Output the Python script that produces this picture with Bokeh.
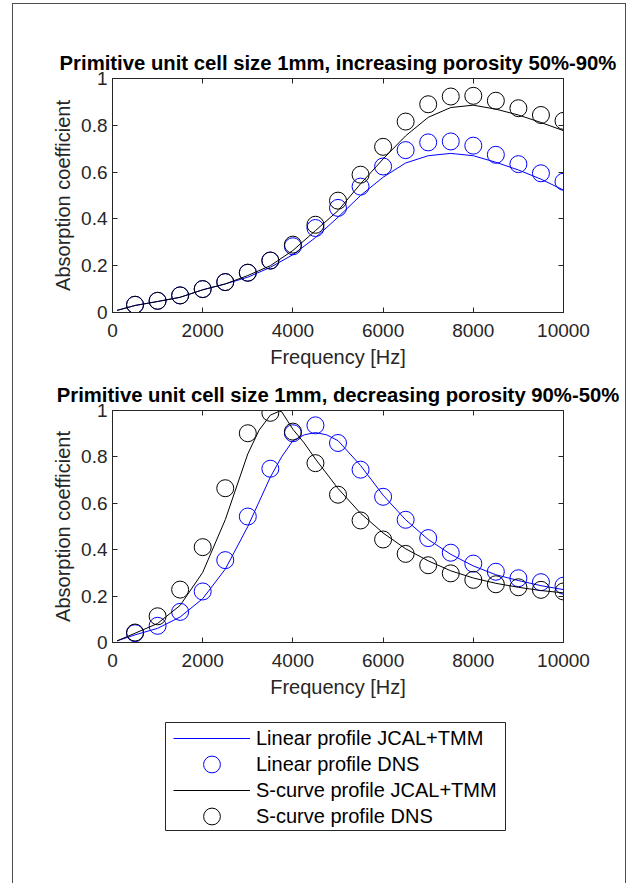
from bokeh.plotting import figure
from bokeh.models import Range1d, LinearAxis, FixedTicker, Legend, LegendItem
from bokeh.layouts import column
from bokeh.embed import file_html
from bokeh.resources import INLINE

# ---------------- data ----------------
dns_freq = [500, 1000, 1500, 2000, 2500, 3000, 3500, 4000, 4500, 5000,
            5500, 6000, 6500, 7000, 7500, 8000, 8500, 9000, 9500, 10000]

# Top panel: increasing porosity 50%-90%
inc_linear_dns = [0.033, 0.050, 0.073, 0.100, 0.130, 0.170, 0.222, 0.283, 0.361, 0.447,
                  0.538, 0.624, 0.694, 0.727, 0.731, 0.713, 0.674, 0.634, 0.595, 0.559]
inc_scurve_dns = [0.033, 0.050, 0.073, 0.100, 0.130, 0.170, 0.222, 0.290, 0.375, 0.478,
                  0.589, 0.708, 0.816, 0.890, 0.923, 0.926, 0.905, 0.873, 0.844, 0.819]
inc_model_freq = [100, 500, 1000, 1500, 2000, 2500, 3000, 3500, 4000, 4500, 5000,
                  5500, 6000, 6500, 7000, 7500, 8000, 8500, 9000, 9500, 10000]
inc_linear_model = [0.009, 0.030, 0.047, 0.065, 0.097, 0.122, 0.151, 0.193, 0.247, 0.320, 0.407,
                    0.500, 0.578, 0.639, 0.670, 0.680, 0.670, 0.642, 0.609, 0.570, 0.523]
inc_scurve_model = [0.009, 0.030, 0.047, 0.065, 0.097, 0.122, 0.158, 0.200, 0.265, 0.350, 0.435,
                    0.550, 0.656, 0.755, 0.834, 0.876, 0.886, 0.869, 0.844, 0.812, 0.777]

# Bottom panel: decreasing porosity 90%-50%
dec_linear_dns = [0.040, 0.072, 0.132, 0.220, 0.355, 0.543, 0.749, 0.902, 0.936, 0.860,
                  0.745, 0.628, 0.529, 0.450, 0.387, 0.340, 0.305, 0.277, 0.260, 0.245]
dec_scurve_dns = [0.043, 0.113, 0.228, 0.411, 0.665, 0.902, 0.990, 0.909, 0.773, 0.637,
                  0.526, 0.444, 0.382, 0.333, 0.298, 0.270, 0.251, 0.238, 0.227, 0.220]
dec_linear_freq = [100, 500, 1000, 1500, 2000, 2500, 3000, 3500, 3750, 4000, 4250, 4500, 4750, 5000,
                   5500, 6000, 6500, 7000, 7500, 8000, 8500, 9000, 9500, 10000]
dec_linear_model = [0.007, 0.033, 0.061, 0.110, 0.189, 0.316, 0.500, 0.713, 0.800, 0.870, 0.895, 0.905, 0.895, 0.870,
                    0.763, 0.635, 0.529, 0.444, 0.380, 0.330, 0.292, 0.267, 0.245, 0.228]
dec_scurve_freq = [100, 500, 1000, 1500, 2000, 2500, 3000, 3250, 3500, 3700, 3750, 4000, 4250, 4500,
                   5000, 5500, 6000, 6500, 7000, 7500, 8000, 8500, 9000, 9500, 10000]
dec_scurve_model = [0.007, 0.040, 0.082, 0.160, 0.302, 0.529, 0.813, 0.915, 0.980, 0.997, 0.995, 0.919, 0.860, 0.791,
                    0.664, 0.557, 0.472, 0.404, 0.352, 0.309, 0.278, 0.255, 0.238, 0.224, 0.214]

x_ticks = [0, 2000, 4000, 6000, 8000, 10000]
y_ticks = [0, 0.2, 0.4, 0.6, 0.8, 1]
y_tick_labels = {0: "0", 0.2: "0.2", 0.4: "0.4", 0.6: "0.6", 0.8: "0.8", 1: "1"}

titles = ["Primitive unit cell size 1mm, increasing porosity 50%-90%",
          "Primitive unit cell size 1mm, decreasing porosity 90%-50%"]
legend_labels = ["Linear profile JCAL+TMM", "Linear profile DNS",
                 "S-curve profile JCAL+TMM", "S-curve profile DNS"]

# ---------------- style ----------------
FONT = "Liberation Sans"
AX = "#262626"
BLUE = "#0000ff"
BLACK = "#000000"
W = 612
FRAME_BORDER = "1px solid #4d4d4d"
MARKER = 17


def style_axis(ax, labels=True):
    ax.axis_line_color = AX
    ax.major_tick_line_color = AX
    ax.major_tick_in = 5
    ax.major_tick_out = 0
    ax.minor_tick_line_color = None
    ax.major_label_text_font = FONT
    ax.major_label_text_color = AX
    ax.axis_label_text_font = FONT
    ax.axis_label_text_font_style = "normal"
    ax.axis_label_text_color = AX
    ax.axis_label_text_font_size = "20px"
    if labels:
        ax.major_label_text_font_size = "19px"
    else:
        ax.major_label_text_font_size = "0px"
        ax.major_label_text_color = None
        ax.major_label_standoff = 0


def make_panel(title, lf, ly, sf, sy, lin_dns, s_dns, height, top, bottom):
    p = figure(width=W, height=height, output_backend="svg", toolbar_location=None,
               x_range=Range1d(0, 10000), y_range=Range1d(0, 1),
               min_border_left=99, min_border_right=62,
               min_border_top=top, min_border_bottom=bottom,
               x_axis_label="Frequency [Hz]", y_axis_label="Absorption coefficient")
    p.title.text = title
    p.title.text_font = FONT
    p.title.text_font_size = "20.3px"
    p.title.text_font_style = "bold"
    p.title.text_color = BLACK
    p.title.align = "center"
    p.xgrid.visible = False
    p.ygrid.visible = False
    p.outline_line_color = AX
    p.background_fill_color = "white"
    p.border_fill_color = "white"

    p.xaxis.ticker = FixedTicker(ticks=x_ticks)
    p.yaxis.ticker = FixedTicker(ticks=y_ticks)
    p.yaxis.major_label_overrides = y_tick_labels
    style_axis(p.xaxis[0])
    style_axis(p.yaxis[0])
    p.xaxis.major_label_standoff = 11
    p.yaxis.major_label_standoff = 5
    p.xaxis.axis_label_standoff = 6
    p.yaxis.axis_label_standoff = 4

    top_ax = LinearAxis(ticker=FixedTicker(ticks=x_ticks))
    right_ax = LinearAxis(ticker=FixedTicker(ticks=y_ticks))
    style_axis(top_ax, labels=False)
    style_axis(right_ax, labels=False)
    p.add_layout(top_ax, "above")
    p.add_layout(right_ax, "right")

    p.line(lf, ly, line_color=BLUE, line_width=1)
    p.scatter(dns_freq, lin_dns, marker="circle", size=MARKER, fill_color=None,
              line_color=BLUE, line_width=1)
    p.line(sf, sy, line_color=BLACK, line_width=1)
    p.scatter(dns_freq, s_dns, marker="circle", size=MARKER, fill_color=None,
              line_color=BLACK, line_width=1)
    return p


p1 = make_panel(titles[0], inc_model_freq, inc_linear_model, inc_model_freq, inc_scurve_model,
                inc_linear_dns, inc_scurve_dns, height=366, top=74, bottom=58)
p2 = make_panel(titles[1], dec_linear_freq, dec_linear_model, dec_scurve_freq, dec_scurve_model,
                dec_linear_dns, dec_scurve_dns, height=330, top=40, bottom=56)

# legend panel: its frame outline is the legend box
p3 = figure(width=W, height=183, output_backend="svg", toolbar_location=None,
            x_range=Range1d(0, 1), y_range=Range1d(0, 1),
            x_axis_location=None, y_axis_location=None,
            min_border_left=152, min_border_right=120, min_border_top=22, min_border_bottom=53)
p3.xgrid.visible = False
p3.ygrid.visible = False
p3.outline_line_color = AX
p3.background_fill_color = "white"
p3.border_fill_color = "white"

# legend-only renderers (their points lie outside the visible range)
hidden_x = [-2, -1]
hidden_y = [-2, -1]
r1 = p3.line(hidden_x, hidden_y, line_color=BLUE, line_width=1)
r2 = p3.scatter(hidden_x, hidden_y, marker="circle", size=MARKER, fill_color=None, line_color=BLUE, line_width=1)
r3 = p3.line(hidden_x, hidden_y, line_color=BLACK, line_width=1)
r4 = p3.scatter(hidden_x, hidden_y, marker="circle", size=MARKER, fill_color=None, line_color=BLACK, line_width=1)

common = dict(orientation="vertical", glyph_width=77, glyph_height=42, label_height=20,
              spacing=10, padding=0, margin=0, label_standoff=6,
              label_text_font=FONT, label_text_font_size="20px", label_text_color=BLACK,
              border_line_color=None, background_fill_alpha=0)
legend_lines = Legend(items=[LegendItem(label=legend_labels[0], renderers=[r1]),
                             LegendItem(label=legend_labels[2], renderers=[r3])],
                      location=(8, 19), **common)
legend_marks = Legend(items=[LegendItem(label=legend_labels[1], renderers=[r2]),
                             LegendItem(label=legend_labels[3], renderers=[r4])],
                      location=(8, -7), **common)
p3.add_layout(legend_lines, "center")
p3.add_layout(legend_marks, "center")

top_block = column(p1, p2, styles={"border": FRAME_BORDER, "border-bottom": "none",
                                   "margin-left": "12px", "margin-top": "3px"})
bottom_block = column(p3, styles={"border-left": FRAME_BORDER, "border-right": FRAME_BORDER,
                                  "margin-left": "12px"})

html = file_html([top_block, bottom_block], INLINE)
open("out.html", "w").write(html)
